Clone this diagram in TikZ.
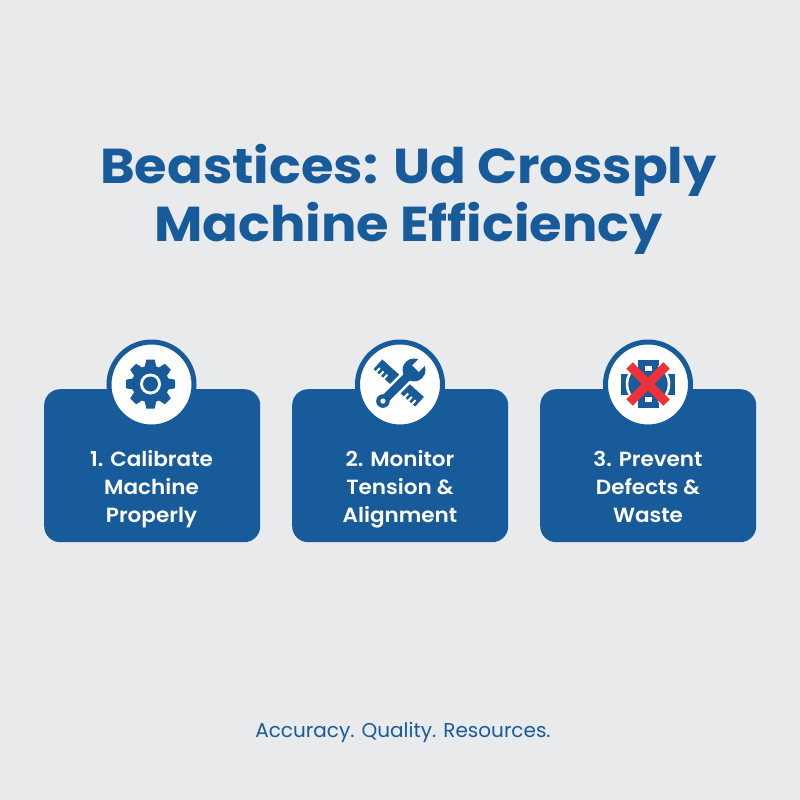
\documentclass[tikz,border=0pt]{standalone}
\usepackage{fontspec}
\setmainfont{Poppins}
\newfontfamily\titlefont{Poppins}[FakeStretch=1.075]
\newfontfamily\cardfont{Poppins SemiBold}[FakeStretch=1.05]
\definecolor{bluemain}{HTML}{175B9A}
\definecolor{bgc}{HTML}{E9EAEB}
\definecolor{redx}{HTML}{EE3237}
\tikzset{
  x=1pt,y=-1pt,
  card/.style={fill=bluemain,rounded corners=16pt,minimum width=216pt,minimum height=153pt,inner sep=0pt,anchor=north west},
  badge/.style={circle,draw=bluemain,line width=5pt,fill=white,minimum size=85pt,inner sep=0pt},
  cardtext/.style={text=white,font=\cardfont\fontsize{20.5}{28}\selectfont,align=center,anchor=base},
  titletext/.style={text=bluemain,font=\titlefont\fontsize{49}{58.5}\selectfont\bfseries,align=center,anchor=base},
  foot/.style={text=bluemain,font=\fontsize{20}{24}\selectfont},
  ico/.style={fill=bluemain,draw=none}
}
\begin{document}
\begin{tikzpicture}
\useasboundingbox (0,0) rectangle (800,800);
\fill[bgc] (0,0) rectangle (800,800);
\node[titletext] (title) at (408.5,241.5) {Beastices: Ud Crossply\\Machine Efficiency};
\node[card] (c1) at (44,389) {};
\node[card] (c2) at (292,389) {};
\node[card] (c3) at (540,389) {};
\node[badge] (b1) at (151.5,384.5) {};
\node[badge] (b2) at (400,384.5) {};
\node[badge] (b3) at (648,384.5) {};
\node[cardtext] (t1) at (151.5,522) {1. Calibrate\\Machine\\Properly};
\node[cardtext] (t2) at (400,522) {2. Monitor\\Tension \&\\Alignment};
\node[cardtext] (t3) at (648,522) {3. Prevent\\Defects \&\\Waste};
\node[foot] (f) at (403,732.5) {Accuracy. Quality. Resources.};
% gear
\begin{scope}[shift={(150.5,384)}]
  \fill[ico] (0,0) circle (18.5);
  \foreach \a in {0,45,...,315}{
    \fill[ico,rotate=\a] (-6,-16) -- (-4.2,-24.5) -- (4.2,-24.5) -- (6,-16) -- cycle;
  }
  \fill[white] (0,0) circle (10.5);
  \fill[ico] (0,0) circle (7.5);
\end{scope}
% ruler
\begin{scope}[shift={(398.7,383)},rotate=-42]
  \fill[ico] (-28,-6.5) rectangle (28,6.5);
  \foreach \p in {-24,-19,-14,14,19,24}{
    \fill[white] (\p-1,1.5) rectangle (\p+1,7);
  }
\end{scope}
% wrench
\begin{scope}[shift={(398.5,385.5)},rotate=-45]
  \draw[white,line width=3pt] (-5.5,-14) -- (-5.5,18);
  \draw[white,line width=3pt] (5.5,-14) -- (5.5,18);
  \fill[ico] (-4.3,-20) rectangle (4.3,22);
  \fill[ico] (0,22) circle (6.8);
  \fill[white] (0,22) circle (2.6);
  \fill[ico] (0,-22) circle (11.5);
  \fill[white] (-4.6,-35) rectangle (4.6,-24);
\end{scope}
% prevent icon
\begin{scope}[shift={(648,384)}]
  \fill[ico] (-10.5,-24) rectangle (10.5,24);
  \fill[ico] (-27,-10.5) rectangle (27,10.5);
  \draw[white,line width=2.6pt] (0,0) ++(-120:21) arc (-120:-240:21) (0,0) ++(-60:21) arc (-60:60:21);
  \fill[white] (-3.5,-18) rectangle (3.5,-13);
  \fill[white] (-3.5,13) rectangle (3.5,18);
  \draw[redx,line width=9pt] (-18.5,-18.5) -- (18.5,18.5);
  \draw[redx,line width=9pt] (18.5,-18.5) -- (-18.5,18.5);
\end{scope}
\end{tikzpicture}
\end{document}
